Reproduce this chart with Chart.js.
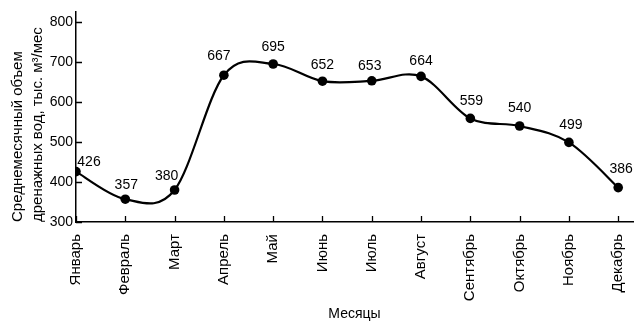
<!DOCTYPE html>
<html>
<head>
<meta charset="utf-8">
<script src="https://cdn.jsdelivr.net/npm/chart.js@4/dist/chart.umd.min.js"></script>
<style>
  html, body { margin: 0; padding: 0; background: #fff; }
  #wrap { width: 634px; height: 321px; position: relative; }
</style>
</head>
<body>
<div id="wrap"><canvas id="c"></canvas></div>
<script>
// Monthly drainage water volume, thousand m³ per month
const months = ['Январь', 'Февраль', 'Март', 'Апрель', 'Май', 'Июнь',
                'Июль', 'Август', 'Сентябрь', 'Октябрь', 'Ноябрь', 'Декабрь'];
const drainage = [426, 357, 380, 667, 695, 652, 653, 664, 559, 540, 499, 386];
const yTicks = [300, 400, 500, 600, 700, 800];

const FONT = "'Liberation Sans', Arial, sans-serif";

// Smooth the line with a uniform Catmull-Rom spline through the point pixels
const smoothCurve = {
  id: 'smoothCurve',
  beforeDatasetsDraw(chart) {
    const meta = chart.getDatasetMeta(0);
    meta.dataset.updateControlPoints(chart.chartArea, 'x');
    const pts = meta.data;
    for (let i = 0; i < pts.length; i++) {
      const p = pts[i];
      const prev = pts[i - 1] || p;
      const next = pts[i + 1] || p;
      const tx = (next.x - prev.x) / 6;
      const ty = (next.y - prev.y) / 6;
      p.cp1x = p.x - tx; p.cp1y = p.y - ty;
      p.cp2x = p.x + tx; p.cp2y = p.y + ty;
    }
  }
};

// Short tick marks pointing into the plot area
const innerTicks = {
  id: 'innerTicks',
  afterDraw(chart) {
    const {ctx, chartArea} = chart;
    const xs = chart.scales.x, ys = chart.scales.y;
    ctx.save();
    ctx.strokeStyle = '#000';
    ctx.lineWidth = 1.3;
    ctx.beginPath();
    months.forEach((m, i) => {
      const px = Math.round(xs.getPixelForValue(i)) + 0.5;
      ctx.moveTo(px, chartArea.bottom);
      ctx.lineTo(px, chartArea.bottom - 6);
    });
    yTicks.forEach(v => {
      const py = Math.round(ys.getPixelForValue(v)) + 0.5;
      ctx.moveTo(chartArea.left, py);
      ctx.lineTo(chartArea.left + 6, py);
    });
    ctx.stroke();
    ctx.restore();
  }
};

// Value labels above each point
const valueLabels = {
  id: 'valueLabels',
  afterDatasetsDraw(chart, args, opts) {
    const {ctx} = chart;
    const meta = chart.getDatasetMeta(0);
    ctx.save();
    ctx.fillStyle = '#000';
    ctx.font = `14px ${FONT}`;
    ctx.textAlign = 'center';
    ctx.textBaseline = 'middle';
    meta.data.forEach((pt, i) => {
      const [dx, dy] = opts.shift[i];
      ctx.fillText(String(drainage[i]), pt.x + dx, pt.y + dy);
    });
    ctx.restore();
  }
};

new Chart(document.getElementById('c'), {
  type: 'line',
  data: {
    datasets: [{
      data: drainage.map((v, i) => ({x: i, y: v})),
      borderColor: '#000',
      borderWidth: 2.2,
      tension: 0.4,
      pointRadius: 4.8,
      pointBackgroundColor: '#000',
      pointBorderWidth: 0,
      fill: false
    }]
  },
  options: {
    responsive: true,
    maintainAspectRatio: false,
    animation: false,
    layout: { autoPadding: false, padding: { top: 12, right: 1, left: 0, bottom: 0 } },
    plugins: {
      legend: { display: false },
      tooltip: { enabled: false },
      valueLabels: {
        shift: [[13, -9], [1, -14], [-8, -14], [-5, -19], [0, -17], [0, -16],
                [-2, -15], [0, -15], [1, -17], [0, -18], [2, -17], [3, -18]]
      }
    },
    scales: {
      x: {
        type: 'linear',
        min: 0,
        max: 11.3,
        afterBuildTicks: s => { s.ticks = months.map((m, i) => ({value: i})); },
        afterFit: s => { s.height = 99; s.paddingLeft = 0; s.paddingRight = 0; },
        grid: { display: false, drawTicks: false },
        border: { color: '#000', width: 1.5 },
        ticks: {
          autoSkip: false,
          minRotation: 90,
          maxRotation: 90,
          padding: 12,
          color: '#000',
          font: { family: FONT, size: 15 },
          callback: v => months[v]
        },
        title: {
          display: true,
          text: 'Месяцы',
          color: '#000',
          padding: 0,
          font: { family: FONT, size: 14, lineHeight: 1.0 }
        }
      },
      y: {
        type: 'linear',
        min: 300,
        max: 825,
        afterBuildTicks: s => { s.ticks = yTicks.map(v => ({value: v})); },
        afterFit: s => { s.width = 76; s.paddingTop = 0; s.paddingBottom = 0; },
        grid: { display: false, drawTicks: false },
        border: { color: '#000', width: 1.5 },
        ticks: {
          padding: 3,
          color: '#000',
          font: { family: FONT, size: 14 }
        },
        title: {
          display: true,
          text: ['Среднемесячный объем', 'дренажных вод, тыс. м³/мес'],
          color: '#000',
          align: 'start',
          padding: { top: 8, bottom: 0 },
          font: { family: FONT, size: 15, lineHeight: 1.33 }
        }
      }
    }
  },
  plugins: [smoothCurve, innerTicks, valueLabels]
});
</script>
</body>
</html>
